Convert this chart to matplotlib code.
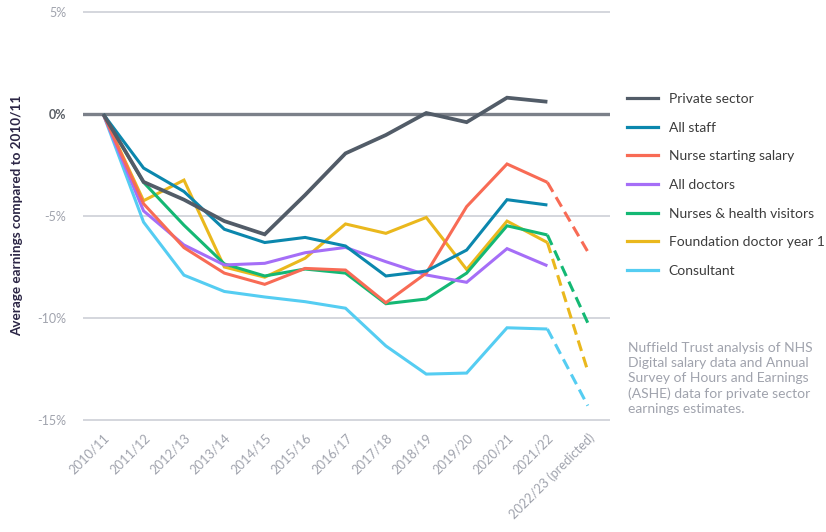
import numpy as np
import matplotlib.pyplot as plt
from matplotlib.lines import Line2D

# Pay change vs 2010/11, per staff group (%)
years = ['2010/11', '2011/12', '2012/13', '2013/14', '2014/15', '2015/16', '2016/17',
         '2017/18', '2018/19', '2019/20', '2020/21', '2021/22', '2022/23 (predicted)']

private_sector = [0, -3.33, -4.2, -5.25, -5.9, -3.97, -1.93, -1.03, 0.05, -0.4, 0.8, 0.6, None]
all_staff = [0, -2.65, -3.8, -5.65, -6.3, -6.05, -6.47, -7.94, -7.7, -6.67, -4.2, -4.46, None]
nurse_starting = [0, -4.4, -6.55, -7.8, -8.35, -7.57, -7.65, -9.25, -7.8, -4.54, -2.45, -3.35, -6.75]
all_doctors = [0, -4.75, -6.42, -7.4, -7.32, -6.8, -6.54, -7.24, -7.89, -8.25, -6.6, -7.44, None]
nurses_hv = [0, -3.35, -5.45, -7.35, -7.94, -7.6, -7.8, -9.3, -9.07, -7.8, -5.48, -5.93, -10.24]
foundation_y1 = [0, -4.25, -3.24, -7.5, -8.0, -7.07, -5.39, -5.85, -5.07, -7.62, -5.25, -6.3, -12.6]
consultant = [0, -5.3, -7.9, -8.7, -8.97, -9.2, -9.52, -11.37, -12.75, -12.7, -10.48, -10.54, -14.3]

names = ['Private sector', 'All staff', 'Nurse starting salary', 'All doctors',
         'Nurses & health visitors', 'Foundation doctor year 1', 'Consultant']
series = [private_sector, all_staff, nurse_starting, all_doctors, nurses_hv, foundation_y1, consultant]
colors = ['#525c68', '#0b87ad', '#f86b55', '#a56ef7', '#14b874', '#eab81d', '#55cdf2']

y_ticks = [5, 0, -5, -10, -15]
y_labels = ['5%', '0%', '-5%', '-10%', '-15%']

plt.rcParams['font.family'] = ['Lato', 'DejaVu Sans']

fig = plt.figure(figsize=(8.26, 5.32), dpi=100)
ax = fig.add_axes([83 / 826, 1 - 426.1 / 532, 527 / 826, 420.2 / 532])
ax.set_xlim(-0.5, 12.55)
ax.set_ylim(-15.3, 5.3)

for yv in y_ticks:
    if yv == 0:
        ax.axhline(yv, color='#7b8089', lw=2.4, zorder=1)
    else:
        ax.axhline(yv, color='#c9cbd3', lw=1.1, zorder=1)

x = np.arange(len(years))
# draw back to front so private sector sits on top
for i in reversed(range(len(series))):
    vals = series[i]
    solid = np.array(vals[:12], dtype=float)
    lw = 2.7 if i == 0 else 2.2
    ax.plot(x[:12], solid, color=colors[i], lw=lw, solid_joinstyle='miter',
            solid_capstyle='butt', zorder=3 + (len(series) - i))
    if vals[12] is not None:
        ax.plot(x[11:], [vals[11], vals[12]], color=colors[i], lw=lw,
                dashes=(3.6, 2.0), dash_capstyle='butt', zorder=3 + (len(series) - i))

for s in ax.spines.values():
    s.set_visible(False)

ax.set_yticks(y_ticks)
ax.set_yticklabels(y_labels, fontsize=9)
ax.tick_params(axis='y', length=0, pad=12)
for lab, yv in zip(ax.get_yticklabels(), y_ticks):
    if yv == 0:
        lab.set_color('#5a5f66')
        lab.set_fontweight('bold')
    else:
        lab.set_color('#a0a3ad')

ax.set_xticks(x)
ax.set_xticklabels(years, fontsize=9.3, color='#a0a3ad', rotation=45, ha='right',
                   rotation_mode='anchor')
ax.tick_params(axis='x', length=0, pad=4)

fig.text(17 / 826, 1 - 215 / 532, 'Average earnings compared to 2010/11', rotation=90,
         ha='center', va='center', fontsize=9.7, fontweight='bold', color='#2b2545')

handles = [Line2D([], [], color=c, lw=2.3) for c in colors]
ax.legend(handles, names, loc='upper left', bbox_to_anchor=(627 / 826, 1 - 93 / 532),
          bbox_transform=fig.transFigure, frameon=False, fontsize=10, borderpad=0,
          borderaxespad=0, handlelength=2.2, handletextpad=0.8, labelspacing=1.2,
          labelcolor='#3c3c3c')

fig.text(628 / 826, 1 - 342 / 532,
         'Nuffield Trust analysis of NHS\nDigital salary data and Annual\n'
         'Survey of Hours and Earnings\n(ASHE) data for private sector\nearnings estimates.',
         ha='left', va='top', fontsize=10, color='#a0a3ad', linespacing=1.3)

fig.savefig('out.png', dpi=100)
